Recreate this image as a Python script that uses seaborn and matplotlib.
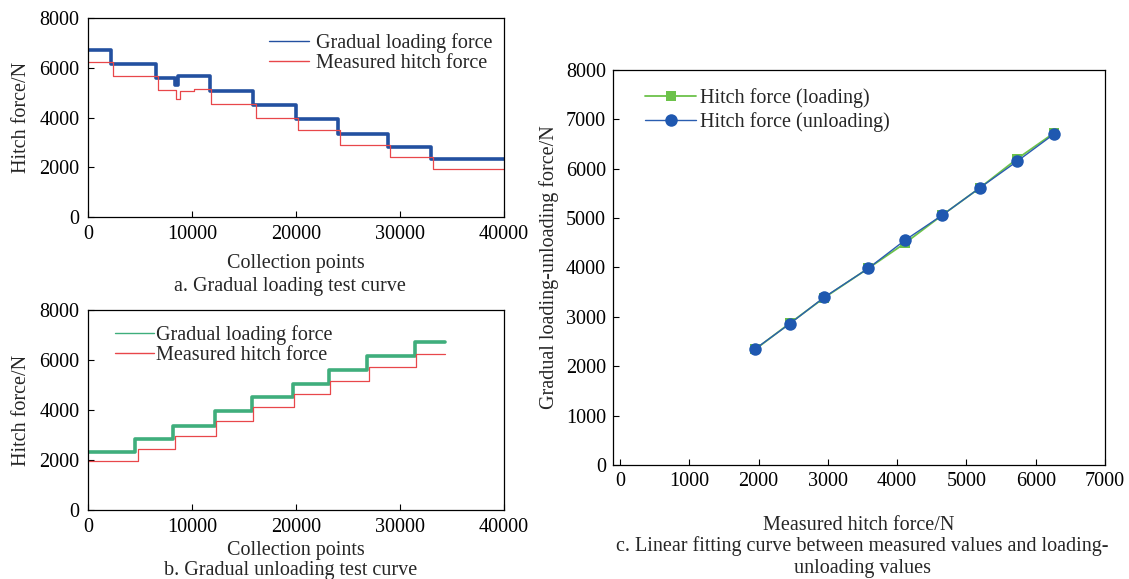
import numpy as np
import pandas as pd
import matplotlib
matplotlib.use("Agg")
import matplotlib.pyplot as plt
import seaborn as sns

# panel a: gradual loading (step starts and levels)
a_load_x = [0, 2200, 6500, 8400, 8600, 11700, 15900, 20000, 24000, 28800, 33000, 40000]
a_load_y = [6700, 6150, 5600, 5300, 5650, 5050, 4500, 3950, 3350, 2800, 2350, 2350]
a_meas_x = [0, 2400, 6700, 8500, 8800, 10200, 11800, 16100, 20200, 24200, 29000, 33200, 40000]
a_meas_y = [6250, 5680, 5100, 4750, 5050, 5150, 4560, 4000, 3500, 2900, 2400, 1950, 1950]

# panel b: gradual unloading
b_load_x = [0, 4500, 8200, 12200, 15800, 19700, 23200, 26800, 31400, 34300]
b_load_y = [2300, 2850, 3350, 3950, 4500, 5050, 5600, 6150, 6700, 6700]
b_meas_x = [0, 4800, 8400, 12300, 15900, 19800, 23300, 27000, 31500, 34300]
b_meas_y = [1950, 2450, 2950, 3550, 4100, 4650, 5150, 5700, 6250, 6250]

# panel c: measured vs loading / unloading
c_measured = [1950, 2450, 2950, 3580, 4110, 4650, 5190, 5730, 6270]
c_loading = [2340, 2870, 3390, 3980, 4490, 5060, 5610, 6200, 6730]
c_unloading = [2350, 2860, 3400, 3980, 4550, 5060, 5610, 6150, 6710]

FS = 14.5

sns.set_theme(style="ticks")
plt.rcParams["font.family"] = ["Liberation Serif", "DejaVu Serif"]
plt.rcParams["font.size"] = FS
plt.rcParams["axes.linewidth"] = 0.9
plt.rcParams["xtick.direction"] = "in"
plt.rcParams["ytick.direction"] = "in"

fig = plt.figure(figsize=(11.29, 5.79), dpi=100)
ax_a = fig.add_axes([0.078, 0.6252, 0.3685, 0.3437])
ax_b = fig.add_axes([0.078, 0.1192, 0.3685, 0.3454])
ax_c = fig.add_axes([0.543, 0.1969, 0.4358, 0.6822])

blue = "#2350a0"
red = "#e8474a"
green = "#3fae7c"


def step_panel(ax, lx, ly, mx, my, lcolor, xlabpad):
    sns.lineplot(x=lx, y=ly, ax=ax, color=lcolor, lw=2.6, drawstyle="steps-post",
                 estimator=None, sort=False, label="Gradual loading force")
    sns.lineplot(x=mx, y=my, ax=ax, color=red, lw=0.9, drawstyle="steps-post",
                 estimator=None, sort=False, label="Measured hitch force")
    ax.set_xlim(0, 40000)
    ax.set_ylim(0, 8000)
    ax.set_xticks([0, 10000, 20000, 30000, 40000])
    ax.set_yticks([0, 2000, 4000, 6000, 8000])
    ax.tick_params(labelsize=FS, length=4, width=0.8, colors="black", pad=6)
    ax.set_xlabel("Collection points", fontsize=FS, labelpad=xlabpad)
    ax.set_ylabel("Hitch force/N", fontsize=FS, labelpad=6)
    for s in ax.spines.values():
        s.set_color("black")


step_panel(ax_a, a_load_x, a_load_y, a_meas_x, a_meas_y, blue, 7)
ax_a.legend(loc="upper right", frameon=False, fontsize=FS, handlelength=2.0,
            handletextpad=0.3, labelspacing=0.05, borderaxespad=0.2,
            bbox_to_anchor=(1.0, 0.985))
for ln in ax_a.get_legend().get_lines():
    ln.set_linewidth(1.0)

step_panel(ax_b, b_load_x, b_load_y, b_meas_x, b_meas_y, green, 3)
ax_b.legend(loc="upper left", frameon=False, fontsize=FS, handlelength=1.95,
            handletextpad=0.1, labelspacing=0.05, borderaxespad=0.2,
            bbox_to_anchor=(0.036, 0.985))
for ln in ax_b.get_legend().get_lines():
    ln.set_linewidth(1.0)

sns.lineplot(x=c_measured, y=c_loading, ax=ax_c, color="#6cc24a", lw=1.3, marker="s",
             markersize=7, markeredgewidth=0, estimator=None, sort=False,
             label="Hitch force (loading)")
sns.lineplot(x=c_measured, y=c_unloading, ax=ax_c, color="#2a5db0", lw=1.0, marker="o",
             markersize=9, markeredgewidth=0, markerfacecolor="#1f58b0",
             estimator=None, sort=False, label="Hitch force (unloading)")
ax_c.set_xlim(-100, 7000)
ax_c.set_ylim(0, 8000)
ax_c.set_xticks(range(0, 7001, 1000))
ax_c.set_yticks(range(0, 8001, 1000))
ax_c.tick_params(labelsize=FS, length=4, width=0.8, colors="black", pad=5)
ax_c.set_xlabel("Measured hitch force/N", fontsize=FS, labelpad=18)
ax_c.set_ylabel("Gradual loading-unloading force/N", fontsize=FS, labelpad=5)
for s in ax_c.spines.values():
    s.set_color("black")
ax_c.legend(loc="upper left", frameon=False, fontsize=FS, handlelength=2.5,
            handletextpad=0.2, labelspacing=0.2, borderaxespad=0.3,
            bbox_to_anchor=(0.037, 0.99))

fig.text(0.257, 1 - 287 / 579, "a. Gradual loading test curve", ha="center", va="center", fontsize=FS)
fig.text(0.257, 1 - 570 / 579, "b. Gradual unloading test curve", ha="center", va="center", fontsize=FS)
fig.text(0.764, 1 - 546 / 579, "c. Linear fitting curve between measured values and loading-",
         ha="center", va="center", fontsize=FS)
fig.text(0.764, 1 - 568 / 579, "unloading values", ha="center", va="center", fontsize=FS)

fig.savefig("out.png", dpi=100, facecolor="white")
